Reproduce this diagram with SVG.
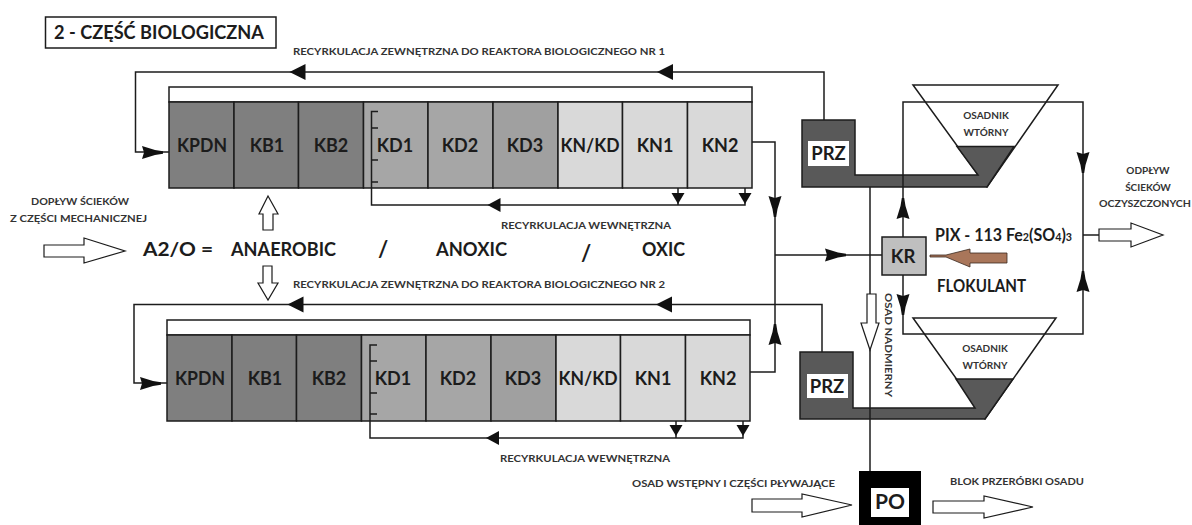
<svg xmlns="http://www.w3.org/2000/svg" xmlns:xlink="http://www.w3.org/1999/xlink" width="1192" height="525" viewBox="0 0 1192 525">
<style>
text{font-family:"Lato","Open Sans","Liberation Sans",sans-serif;font-weight:700;fill:#1c1c1c}
.c{text-anchor:middle}
.cell{font-size:18px;text-anchor:middle}
.big{font-size:18.500px}
.s{font-size:10px;fill:#333}
.m{font-size:16.500px}
.box{stroke:#1c1c1c;stroke-width:1.5}
.d{fill:#7f7f7f}.g{fill:#a6a6a6}.g2{fill:#a0a0a0}.l{fill:#d9d9d9}
.dark{fill:#595959;stroke:#1c1c1c;stroke-width:1.5}
.w{fill:#fff;stroke:#1c1c1c;stroke-width:1.5}
.wb{fill:#fff;stroke:none}
.ln{fill:none;stroke:#1c1c1c;stroke-width:1.5}
.block{fill:#fff;stroke:#1c1c1c;stroke-width:1.2}
.ah{fill:#111}
</style>
<defs>
<path id="big" d="M-8,-8V8L8,0Z"/>
<path id="mid" d="M-6.5,-7V7L6.5,0Z"/>
<path id="sm" d="M-5.5,-6.5V6.5L5.5,0Z"/>
<path id="dbl" d="M-10,-6.500L-8,0L-10,6.500L3,2.500L11,1.200V-1.200L3,-2.500Z"/>
<g id="reactor">
<rect class="w" x="0" y="-15" width="583" height="15"/>
<rect class="box d" x="0" y="0" width="65" height="86"/>
<rect class="box d" x="65" y="0" width="64.500" height="86"/>
<rect class="box d" x="129.500" y="0" width="65" height="86"/>
<rect class="box g" x="194.500" y="0" width="64.500" height="86"/>
<rect class="box g" x="259" y="0" width="65" height="86"/>
<rect class="box g2" x="324" y="0" width="65" height="86"/>
<rect class="box l" x="389" y="0" width="64.500" height="86"/>
<rect class="box l" x="453.500" y="0" width="65" height="86"/>
<rect class="box l" x="518.500" y="0" width="64.500" height="86"/>
<text class="cell" x="33" y="50" textLength="50" lengthAdjust="spacingAndGlyphs">KPDN</text>
<text class="cell" x="98" y="50">KB1</text>
<text class="cell" x="162" y="50">KB2</text>
<text class="cell" x="226" y="50">KD1</text>
<text class="cell" x="291" y="50">KD2</text>
<text class="cell" x="356" y="50">KD3</text>
<text class="cell" x="421" y="50" textLength="59" lengthAdjust="spacingAndGlyphs">KN/KD</text>
<text class="cell" x="486" y="50">KN1</text>
<text class="cell" x="551" y="50">KN2</text>
</g>
</defs>
<rect width="1192" height="525" fill="#fff"/>

<g id="title"><rect x="45.500" y="17" width="230.500" height="31" fill="#fff" stroke="#1c1c1c" stroke-width="1.500"/>
<text x="54" y="39" font-size="19" textLength="210" lengthAdjust="spacingAndGlyphs">2 - CZĘŚĆ BIOLOGICZNA</text></g>

<g id="reaktor-1"><use href="#reactor" x="169" y="102"/></g>
<g id="reaktor-2"><use href="#reactor" x="167" y="335"/></g>

<g id="osadnik-1"><polygon class="w" points="913,85 1058,85 987,187"/>
<text class="s c" x="986" y="119">OSADNIK</text><text class="s c" x="986" y="136">WTÓRNY</text></g>
<g id="osadnik-2"><polygon class="w" points="913,318 1056,318 985,419"/>
<text class="s c" x="985" y="352">OSADNIK</text><text class="s c" x="985" y="369">WTÓRNY</text></g>

<g id="prz-1"><polygon class="dark" points="802,120 855,120 855,175 978,175 957,146.500 1014,146.500 987,187 802,187"/>
<rect class="wb" x="808" y="141" width="41" height="25"/><text class="c" x="828.500" y="160" font-size="18.500">PRZ</text></g>
<g id="prz-2"><polygon class="dark" points="800,352 853,352 853,408 975,408 956,379 1013,379 985,419 800,419"/>
<rect class="wb" x="807" y="374" width="41" height="24"/><text class="c" x="827" y="393" font-size="18.500">PRZ</text></g>

<g id="connectors">
<path class="ln" d="M824,120V72H135.500V152H169"/>
<path class="ln" d="M822,352V304.500H134V383H167"/>
<path class="ln" d="M378,111.500H371.500V205H745V188M678,188V205M371.500,128H378M371.500,160H378M371.500,182H378"/>
<path class="ln" d="M377,345H370V438H743V421M676,421V438M370,361H377M370,393H377M370,414H377"/>
<path class="ln" d="M752,142H775V372H750M775,255H882"/>
<path class="ln" d="M870,187V471"/>
<path class="ln" d="M903,237V102H1083V334H903V275M1083,235H1100"/>
<g class="ah">
<use href="#big" transform="translate(297.500,72) rotate(180)"/>
<use href="#big" transform="translate(665,72) rotate(180)"/>
<use href="#big" transform="translate(295.500,304.500) rotate(180)"/>
<use href="#big" transform="translate(664,304.500) rotate(180)"/>
<use href="#dbl" transform="translate(152,152.500)"/>
<use href="#dbl" transform="translate(150,383.500)"/>
<use href="#mid" transform="translate(494,205) rotate(180)"/>
<use href="#mid" transform="translate(492.500,438) rotate(180)"/>
<use href="#sm" transform="translate(678,198.500) rotate(90)"/>
<use href="#sm" transform="translate(745,198.500) rotate(90)"/>
<use href="#sm" transform="translate(676,430.500) rotate(90)"/>
<use href="#sm" transform="translate(743,430.500) rotate(90)"/>
<use href="#dbl" transform="translate(775,206) rotate(90)"/>
<use href="#dbl" transform="translate(775,335) rotate(-90)"/>
<use href="#dbl" transform="translate(835,255)"/>
<use href="#dbl" transform="translate(903,209) rotate(-90)"/>
<use href="#dbl" transform="translate(903,304) rotate(90)"/>
<use href="#dbl" transform="translate(1083,162) rotate(90)"/>
<use href="#dbl" transform="translate(1083,282) rotate(-90)"/>
</g>
</g>

<g id="strzalki-blokowe">
<path class="block" d="M44,245H84V238L125,251L84,263V257H44Z"/>
<path class="block" d="M263,230V214H259L268,196L278,214H273V230Z"/>
<path class="block" d="M263,266H272V283H278L268,300L258,283H263Z"/>
<path class="block" d="M752,499H802V494L852,505L802,517V512H752Z"/>
<path class="block" d="M933,501H984V496L1033,507L984,518V513H933Z"/>
<path class="block" d="M1099,229H1131V223L1163,235L1131,247V241H1099Z"/>
<path class="block" d="M867,294H876V323H879L870,350L861,323H867Z"/>
<path d="M1007,253H970V249L946,255H930V257H946L970,267V263H1007Z" fill="#a9765a" stroke="#3a2a20" stroke-width=".8"/>
</g>

<g id="kr"><rect x="882" y="237" width="44" height="38" fill="#bfbfbf" stroke="#1c1c1c" stroke-width="1.500"/>
<text class="c" x="903" y="263" font-size="18.500">KR</text></g>

<g id="po"><rect x="859" y="471" width="62" height="54" fill="#000"/><rect x="871" y="488" width="38" height="29" fill="#fff"/>
<text class="c" x="890" y="509" font-size="21">PO</text></g>

<g id="labels">
<text class="s" x="293" y="55" textLength="372" lengthAdjust="spacingAndGlyphs">RECYRKULACJA ZEWNĘTRZNA DO REAKTORA BIOLOGICZNEGO NR 1</text>
<text class="s" x="293" y="288" textLength="372" lengthAdjust="spacingAndGlyphs">RECYRKULACJA ZEWNĘTRZNA DO REAKTORA BIOLOGICZNEGO NR 2</text>
<text class="s" x="501" y="229" textLength="170" lengthAdjust="spacingAndGlyphs">RECYRKULACJA WEWNĘTRZNA</text>
<text class="s" x="500" y="462" textLength="170" lengthAdjust="spacingAndGlyphs">RECYRKULACJA WEWNĘTRZNA</text>
<text class="s" x="31" y="205" textLength="98" lengthAdjust="spacingAndGlyphs">DOPŁYW ŚCIEKÓW</text>
<text class="s" x="10" y="222" textLength="137" lengthAdjust="spacingAndGlyphs">Z CZĘŚCI MECHANICZNEJ</text>
<text class="big" x="143" y="256" textLength="70" lengthAdjust="spacingAndGlyphs">A2/O =</text>
<text class="big" x="231" y="256" textLength="105" lengthAdjust="spacingAndGlyphs">ANAEROBIC</text>
<text x="378" y="257" font-size="22">/</text>
<text class="big" x="436" y="256" textLength="71" lengthAdjust="spacingAndGlyphs">ANOXIC</text>
<text x="581" y="261" font-size="22">/</text>
<text class="big" x="642" y="256" textLength="43" lengthAdjust="spacingAndGlyphs">OXIC</text>
<text class="s c" x="1148" y="174">ODPŁYW</text>
<text class="s c" x="1148" y="191">ŚCIEKÓW</text>
<text class="s" x="1099" y="207" textLength="92" lengthAdjust="spacingAndGlyphs">OCZYSZCZONYCH</text>
<text class="m" x="935" y="241" textLength="137" lengthAdjust="spacingAndGlyphs">PIX - 113 Fe<tspan font-size="11">2</tspan>(SO<tspan font-size="11">4</tspan>)<tspan font-size="11">3</tspan></text>
<text class="m" x="937" y="292" textLength="89" lengthAdjust="spacingAndGlyphs">FLOKULANT</text>
<text class="s" transform="translate(885,293) rotate(90)" textLength="104" lengthAdjust="spacingAndGlyphs">OSAD NADMIERNY</text>
<text class="s" x="632" y="487" textLength="203" lengthAdjust="spacingAndGlyphs">OSAD WSTĘPNY I CZĘŚCI PŁYWAJĄCE</text>
<text class="s" x="950" y="485" textLength="134" lengthAdjust="spacingAndGlyphs">BLOK PRZERÓBKI OSADU</text>
</g>
</svg>
